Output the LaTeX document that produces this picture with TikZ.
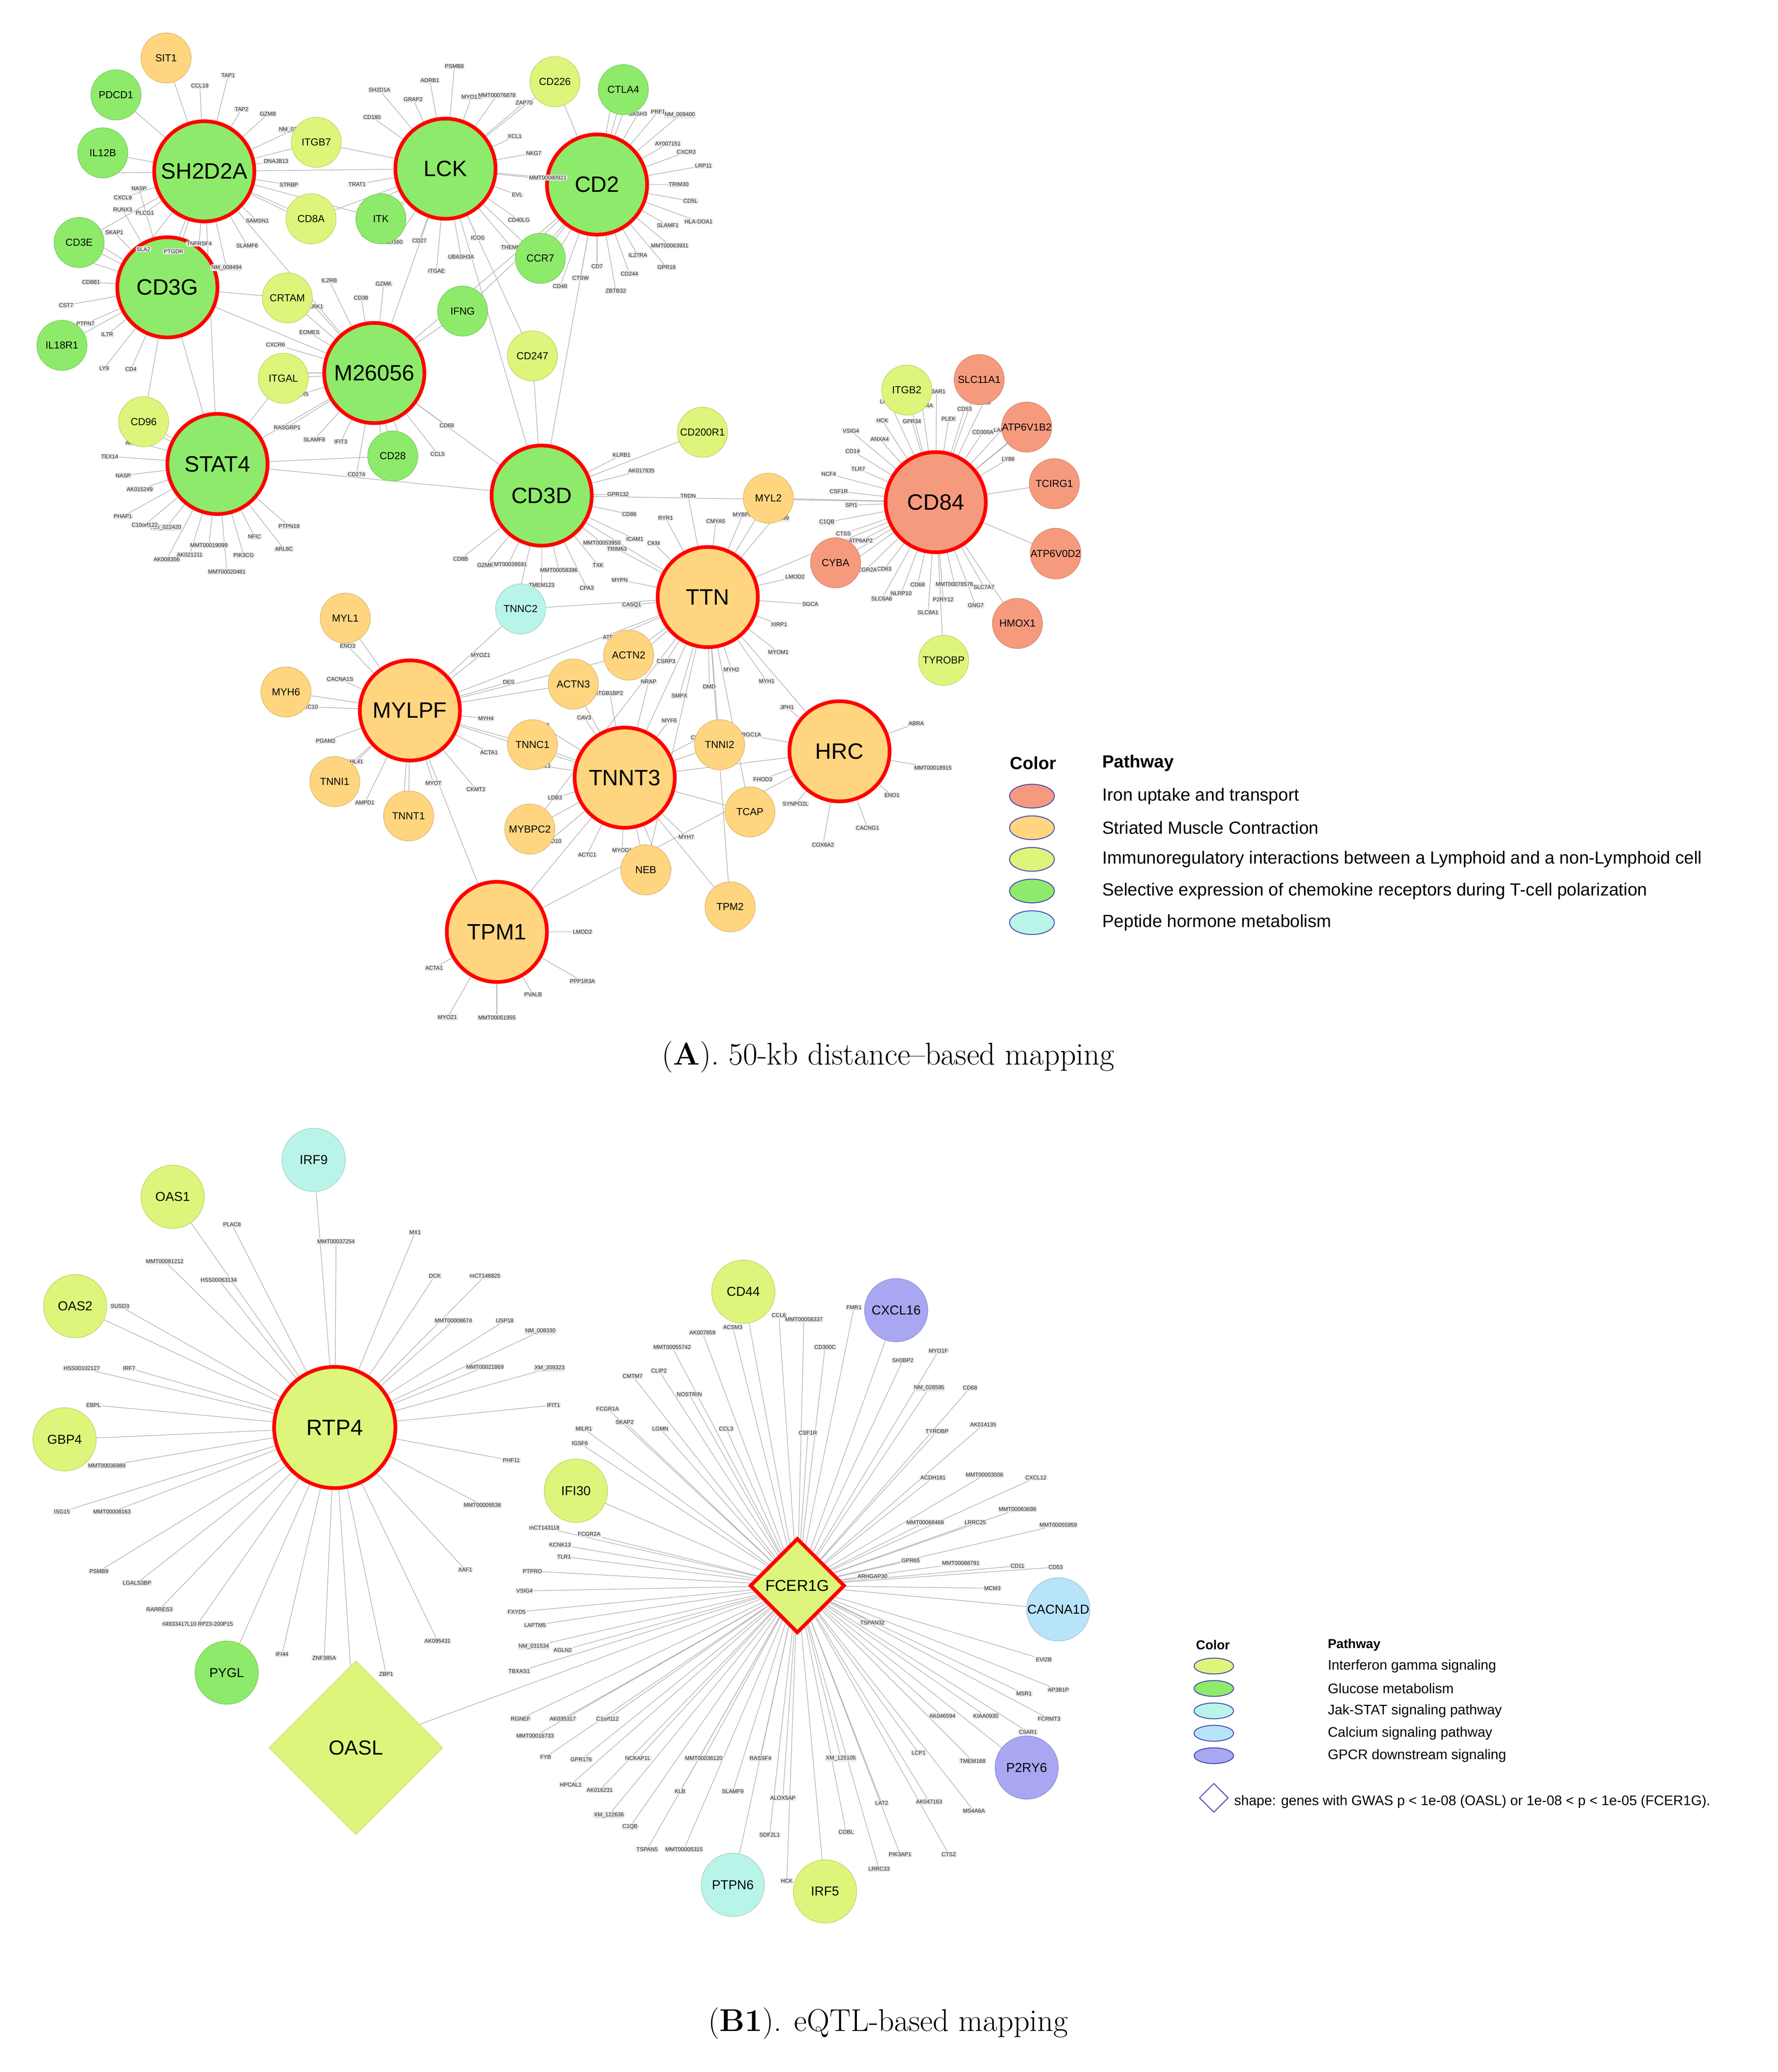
\documentclass[tikz,border=0pt]{standalone}
\usepackage{fontspec}
\setsansfont{Liberation Sans}
\usetikzlibrary{calc,shapes.geometric}
\pgfdeclarelayer{bg}\pgfsetlayers{bg,main}
\definecolor{grn}{HTML}{8EEA6A}
\definecolor{yg}{HTML}{DDF57A}
\definecolor{org}{HTML}{FFD580}
\definecolor{sal}{HTML}{F69A7E}
\definecolor{cyn}{HTML}{B8F5E8}
\definecolor{lb}{HTML}{B8E4FA}
\definecolor{pur}{HTML}{A9A6F2}
\tikzset{
 hub/.style={circle,fill=#1,draw=red,line width=4pt,minimum size=3.8cm,inner sep=0pt,font=\sffamily\fontsize{24}{24}\selectfont},
 mid/.style={circle,fill=#1,draw=#1!85!black,line width=0.6pt,minimum size=1.9cm,inner sep=0pt,font=\sffamily\fontsize{14}{14}\selectfont},
 sm/.style={fill=gray!18,rounded corners=2pt,inner sep=1pt,font=\sffamily\fontsize{6}{6}\selectfont,text=black!85},
 ed/.style={draw=gray!65,line width=0.6pt},
 lgl/.style={ellipse,draw=gray!60!blue,line width=1pt,minimum width=1.7cm,minimum height=0.9cm,fill=#1},
 lgt/.style={anchor=west,font=\sffamily\fontsize{19}{19}\selectfont},
 lgs/.style={anchor=west,font=\sffamily\fontsize{15}{15}\selectfont},
 captxt/.style={font=\rmfamily\fontsize{34}{34}\selectfont}
}
\newcommand\spk[5]{%
 \expandafter\gdef\csname L#1\endcsname{#5}%
 \foreach \t [count=\i] in {#5}{%
  \pgfmathsetmacro\ang{#2+\i*#3}\pgfmathsetmacro\rr{#4+mod(\i,3)*10}%
  \node[sm] (#1-\i) at ($(#1)+(\ang:\rr)$) {\t};}}
\newcommand\exs[2]{%
 \expandafter\gdef\csname L#1\endcsname{#2}%
 \foreach \xx/\yy/\t [count=\i] in {#2}{%
  \node[sm] (#1-\i) at (\xx,\yy) {\t};}}
\newcommand\spkE[1]{%
 \expandafter\let\expandafter\tmpl\csname L#1\endcsname
 \foreach \t [count=\i] in \tmpl {\draw[ed] (#1) -- (#1-\i);}}
\begin{document}
\begin{tikzpicture}[x=0.05cm,y=-0.05cm]
\path[use as bounding box] (0,0) rectangle (1349,1572);
% ---------- Panel A hubs
\node[hub=grn] (SH2D2A) at (155,130) {SH2D2A};
\node[hub=grn] (LCK) at (338,128) {LCK};
\node[hub=grn] (CD2) at (453,140) {CD2};
\node[hub=grn] (CD3G) at (127,218) {CD3G};
\node[hub=grn] (M26056) at (284,283) {M26056};
\node[hub=grn] (STAT4) at (165,352) {STAT4};
\node[hub=grn] (CD3D) at (411,376) {CD3D};
\node[hub=sal] (CD84) at (710,381) {CD84};
\node[hub=org] (TTN) at (537,453) {TTN};
\node[hub=org] (MYLPF) at (311,539) {MYLPF};
\node[hub=org] (TNNT3) at (474,590) {TNNT3};
\node[hub=org] (HRC) at (637,570) {HRC};
\node[hub=org] (TPM1) at (377,707) {TPM1};
% spokes panel A
\spk{SH2D2A}{-110}{17}{55}{CCL19,TAP1,TAP2,GZMB,NM\_011331,DNAJB13,STRBP,TOX,SAMSN1,SLAMF6,NM\_008494,TNFRSF4,PTGDR,SLA2,PLCG1,CXCL9,CD6}
\spk{LCK}{-160}{15}{58}{CD180,SH2D1A,GRAP2,ADRB1,PSMB8,MYO1G,MMT00076878,ZAP70,XCL1,NKG7,MMT00080921,EVL,CD40LG,THEMIS,ICOS,UBASH3A,ITGAE,CD27,CD160,LAT,KLRD1,TRAT1}
\spk{CD2}{-90}{10}{62}{TRAF1,CAMK4,SASH3,PRF1,NM\_009400,AY007151,CXCR3,LRP11,TRIM30,CD5L,HLA-DOA1,SLAMF1,MMT00063931,GPR18,IL27RA,CD244,ZBTB32,CD7,CTSW,CD48,IL2RG,PTPRC}
\spk{CD3G}{100}{14}{58}{CD4,LY9,IL7R,PTPN7,CST7,CD8B1,ACAP1,BCL11B,SKAP1,RUNX3,NASP}
\spk{M26056}{20}{16}{58}{CD69,CCL5,GZMA,LAG3,CD274,IFIT3,SLAMF8,RASGRP1,CCR5,TBX21,CXCR6,EOMES,KLRK1,IL2RB,CD38,GZMK}
\spk{STAT4}{30}{11}{62}{PTPN18,ARL8C,NFIC,PIK3CG,MMT00020481,MMT00019099,AK021211,AK008356,NM\_022420,C10orf122,PHAP1,AK015249,NASP,TEX14,AK032900,SLAMF7}
\spk{CD3D}{-40}{13}{58}{KLRB1,AK017935,GPR132,CD86,ICAM1,MMT00053950,TXK,CPA3,MMT00058396,TMEM123,MPEG1,MMT00039591,GZMK,CD8B}
\spk{CD84}{52}{8.4}{64}{SLC7A7,GNG7,MMT00078576,P2RY12,SLC8A1,CD68,NLRP10,SLC6A6,CD63,FCGR2A,LAPTM5,ATP6AP2,CTSS,C1QB,SPI1,CSF1R,NCF4,TLR7,CD14,VSIG4,ANXA4,HCK,LILRB4,GPR34,CLEC4A,C3AR1,PLEK,CD53,CCL3,CD300A,LAIR1,NCF2,LY86}
\spk{TTN}{-30}{17}{58}{LMOD2,SGCA,XIRP1,MYOM1,MYH1,MYH2,DMD,SMPX,CSRP3,MYOZ2,ATP2A1,CASQ1,MYPN,TRIM63,CKM,RYR1,TRDN,CMYA5,MYBPH,NM\_009299}
\spk{MYLPF}{-60}{22}{58}{MYOZ1,DES,MYH4,ACTA1,CKMT2,MYOT,TXLNB,AMPD1,KLHL41,PGAM2,LRRC10,CACNA1S,ENO3}
\spk{TNNT3}{20}{24}{55}{MYH7,CASQ2,MYOD1,ACTC1,KBTBD10,LDB3,SMTNL1,PYGM,CAV3,ITGB1BP2,NRAP,MYF6,CKMT2}
\spk{HRC}{-50}{30}{52}{ABRA,MMT00018915,ENO1,CACNG1,COX6A2,SYNPO2L,FHOD3,PPARGC1A,JPH1}
\spk{TPM1}{-30}{30}{55}{LMOD2,PPP1R3A,PVALB,MMT00051955,MYOZ1,ACTA1}
% mid nodes (drawn over spoke labels)
\foreach \n/\x/\y/\c in {SIT1/126/44/org,PDCD1/88/72/grn,IL12B/78/116/grn,ITGB7/240/108/yg,CD226/421/62/yg,CTLA4/473/68/grn,CD8A/236/166/yg,ITK/289/166/grn,CD3E/60/184/grn,CRTAM/218/226/yg,CCR7/410/196/grn,IFNG/351/236/grn,CD247/404/270/yg,IL18R1/47/262/grn,ITGAL/215/287/yg,CD96/109/320/yg,CD28/298/346/grn,CD200R1/533/328/yg,MYL2/583/378/org,ITGB2/688/296/yg,SLC11A1/743/288/sal,ATP6V1B2/779/324/sal,TCIRG1/800/367/sal,ATP6V0D2/801/420/sal,CYBA/634/427/sal,HMOX1/772/473/sal,TYROBP/716/501/yg,TNNC2/395/462/cyn,MYL1/262/469/org,ACTN2/477/497/org,ACTN3/435/519/org,MYH6/217/525/org,TNNC1/404/565/org,TNNI2/546/565/org,TNNI1/254/593/org,TNNT1/310/619/org,MYBPC2/402/629/org,TCAP/569/616/org,NEB/490/660/org,TPM2/554/688/org}
  {\node[mid=\c,font=\sffamily\fontsize{11}{11}\selectfont] (\n) at (\x,\y) {\n};}
% legend A
\node[lgt,font=\sffamily\bfseries\fontsize{19}{19}\selectfont] at (764,579) {Color};
\node[lgt,font=\sffamily\bfseries\fontsize{19}{19}\selectfont] at (834,579) {Pathway};
\foreach \c/\t [count=\i] in {sal/Iron uptake and transport,org/Striated Muscle Contraction,yg/Immunoregulatory interactions between a Lymphoid and a non-Lymphoid cell,grn/Selective expression of chemokine receptors during T-cell polarization,cyn/Peptide hormone metabolism}{
  \node[lgl=\c] (LA\i) at (783,580+\i*24) {};
  \node[lgt] at (834,580+\i*24) {\t};}
\node[captxt] at (674,802) {(\textbf{A}). 50-kb distance--based mapping};
% ---------- Panel B
\node[hub=yg,minimum size=4.6cm] (RTP4) at (254,1083) {RTP4};
\node[diamond,fill=yg,draw=yg!85!black,aspect=1,minimum width=6.6cm,minimum height=6.6cm,inner sep=0,font=\sffamily\fontsize{22}{22}\selectfont] (OASL) at (270,1326) {OASL};
\node[diamond,fill=yg,draw=red,line width=4pt,aspect=1,minimum width=3.6cm,minimum height=3.6cm,inner sep=0,font=\sffamily\fontsize{17}{17}\selectfont] (FCER1G) at (605,1203) {FCER1G};
\foreach \n/\x/\y/\c in {IRF9/238/880/cyn,OAS1/131/908/yg,OAS2/57/991/yg,GBP4/49/1092/yg,PYGL/172/1269/grn,CD44/564/980/yg,CXCL16/680/994/pur,IFI30/437/1131/yg,CACNA1D/803/1221/lb,P2RY6/779/1341/pur,PTPN6/556/1430/cyn,IRF5/626/1435/yg}
 {\node[mid=\c,minimum size=2.4cm] (\n) at (\x,\y) {\n};}
\exs{RTP4}{176/929/PLAC8,255/942/MMT00037254,315/935/MX1,330/968/DCK,368/968/mCT146825,344/1002/MMT00008674,383/1002/USP18,410/1010/NM\_008330,368/1037/MMT00021869,417/1038/XM\_209323,420/1066/IFIT1,388/1108/PHF11,366/1142/MMT00009536,353/1191/XAF1,332/1245/AK095431,293/1270/ZBP1,246/1258/ZNF385A,214/1255/IFI44,150/1232/rl4933417L10 RP23-200P15,121/1221/RARRES3,104/1201/LGALS3BP,75/1192/PSMB9,47/1147/ISG15,85/1147/MMT00008163,81/1112/MMT00036989,71/1066/EBPL,62/1038/HSS00102127,98/1038/IRF7,91/991/SUSD3,125/957/MMT00081212,166/971/HSS00063134}
\exs{FCER1G}{533/1011/AK007859,556/1007/ACSM3,591/998/CCL6,610/1001/MMT00058337,648/992/FMR1,626/1022/CD300C,685/1032/SH3BP2,712/1025/MYO1F,705/1053/NM\_028595,736/1053/CD68,711/1086/TYROBP,746/1081/AK014135,708/1121/ACDH181,747/1119/MMT00003506,786/1121/CXCL12,772/1145/MMT00063698,803/1157/MMT00055959,702/1155/MMT00068469,740/1155/LRRC25,691/1184/GPR65,729/1186/MMT00068791,772/1188/CD11,801/1189/CD53,753/1205/MCM3,662/1196/ARHGAP30,662/1231/TSPAN32,792/1259/EVI2B,803/1282/AP3B1P,777/1285/MSR1,796/1304/FCRMT3,780/1314/C5AR1,715/1302/AK046594,748/1302/KIAA0930,738/1336/TMEM168,697/1330/LCP1,705/1367/AK047163,739/1374/MS4A6A,720/1407/CTSZ,669/1368/LAT2,683/1407/PIK3AP1,667/1418/LRRC33,642/1390/COBL,584/1392/SDF2L1,597/1427/HCK,594/1364/ALOX5AP,577/1334/RASSF4,638/1334/XM\_125105,556/1359/SLAMF9,534/1334/MMT00036120,516/1359/KLB,484/1334/NCKAP1L,455/1358/AK016231,433/1354/HPCAL1,441/1335/GPR176,414/1333/FYB,406/1317/MMT00016733,395/1304/RGNEF,427/1304/AK035317,461/1304/C1orf112,462/1377/XM\_122636,478/1386/C1QB,491/1403/TSPAN5,519/1403/MMT00005315,394/1268/TBXAS1,405/1249/NM\_031534,427/1252/AGLN2,406/1233/LAPTM5,392/1223/FXYD5,398/1207/VSIG4,404/1192/PTPRO,428/1181/TLR1,425/1172/KCNK13,413/1159/mCT143118,447/1164/FCGR2A,510/1022/MMT00055742,480/1044/CMTM7,500/1040/CLIP2,523/1058/NOSTRIN,461/1069/FCGR1A,474/1079/SKAP2,443/1084/MILR1,501/1084/LGMN,440/1095/IGSF6,551/1084/CCL3,613/1087/CSF1R}
% legend B
\node[lgs,font=\sffamily\bfseries\fontsize{14}{14}\selectfont] at (905,1248) {Color};
\node[lgs,font=\sffamily\bfseries\fontsize{14}{14}\selectfont] at (1005,1248) {Pathway};
\foreach \c/\t [count=\i] in {yg/Interferon gamma signaling,grn/Glucose metabolism,cyn/Jak-STAT signaling pathway,lb/Calcium signaling pathway,pur/GPCR downstream signaling}{
  \node[lgl=\c,minimum width=1.5cm,minimum height=0.6cm] (LB\i) at (921,1247+\i*17) {};
  \node[lgs] at (1005,1247+\i*17) {\t};}
\node[diamond,draw=gray!60!blue,line width=1pt,aspect=1,minimum size=1.1cm,inner sep=0] (LBD) at (921,1364) {};
\node[lgs] at (934,1367) {shape: genes with GWAS p < 1e-08 (OASL) or 1e-08 < p < 1e-05 (FCER1G).};
\node[captxt] at (674,1535) {(\textbf{B1}). eQTL-based mapping};
% ---------- all edges on background
\begin{pgfonlayer}{bg}
\fill[white] (0,0) rectangle (1349,1572);
\foreach \a/\b in {SH2D2A/LCK,SH2D2A/CD3G,SH2D2A/M26056,SH2D2A/STAT4,LCK/CD2,LCK/CD3D,LCK/M26056,CD2/CD3D,CD2/M26056,CD3G/STAT4,CD3G/M26056,M26056/CD3D,STAT4/CD3D,STAT4/M26056,CD3D/CD84,TTN/CD84,TTN/MYLPF,TTN/TNNT3,TTN/HRC,MYLPF/TNNT3,TNNT3/HRC,TPM1/TNNT3,TPM1/MYLPF,TPM1/HRC,CD3D/TTN,
SIT1/SH2D2A,PDCD1/SH2D2A,IL12B/SH2D2A,ITGB7/SH2D2A,ITGB7/LCK,CD8A/SH2D2A,CD8A/LCK,ITK/LCK,ITK/SH2D2A,CD226/CD2,CTLA4/CD2,CD226/LCK,CD3E/CD3G,CD3E/SH2D2A,CRTAM/CD3G,CRTAM/M26056,CCR7/CD2,CCR7/LCK,IFNG/M26056,IFNG/CD2,CD247/CD3D,CD247/LCK,IL18R1/CD3G,ITGAL/STAT4,ITGAL/M26056,CD96/STAT4,CD96/CD3G,CD28/M26056,CD28/STAT4,CD200R1/CD3D,MYL2/TTN,MYL2/CD84,ITGB2/CD84,SLC11A1/CD84,ATP6V1B2/CD84,TCIRG1/CD84,ATP6V0D2/CD84,CYBA/CD84,HMOX1/CD84,TYROBP/CD84,TNNC2/TTN,TNNC2/MYLPF,MYL1/MYLPF,MYH6/MYLPF,ACTN2/TTN,ACTN2/MYLPF,ACTN3/MYLPF,ACTN3/TNNT3,TNNC1/MYLPF,TNNC1/TNNT3,TNNI2/TNNT3,TNNI2/TTN,TNNI1/MYLPF,TNNT1/MYLPF,MYBPC2/TNNT3,MYBPC2/TTN,TCAP/TNNT3,TCAP/TTN,NEB/TNNT3,NEB/TTN,TPM2/TNNT3,TPM2/TTN,
IRF9/RTP4,OAS1/RTP4,OAS2/RTP4,GBP4/RTP4,PYGL/RTP4,OASL/RTP4,OASL/FCER1G,CD44/FCER1G,CXCL16/FCER1G,IFI30/FCER1G,CACNA1D/FCER1G,P2RY6/FCER1G,PTPN6/FCER1G,IRF5/FCER1G}
 {\draw[ed] (\a) -- (\b);}
\foreach \h in {SH2D2A,LCK,CD2,CD3G,M26056,STAT4,CD3D,CD84,TTN,MYLPF,TNNT3,HRC,TPM1,RTP4,FCER1G}{\spkE{\h}}
\end{pgfonlayer}
\end{tikzpicture}
\end{document}
